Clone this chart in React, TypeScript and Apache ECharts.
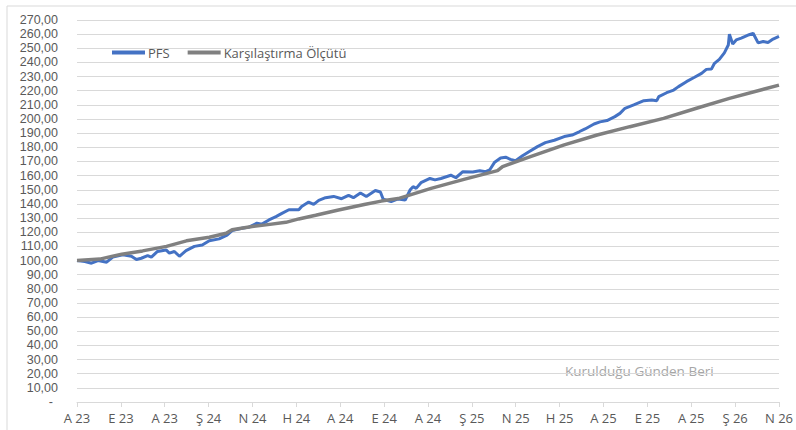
import React, { useEffect, useRef } from "react";
import * as echarts from "echarts";

const xLabels = ["A 23", "E 23", "A 23", "Ş 24", "N 24", "H 24", "A 24", "E 24", "A 24", "Ş 25", "N 25", "H 25", "A 25", "E 25", "A 25", "Ş 26", "N 26"];

// time in months since start (Aug 2023)
const pfsT = [0, 0.36, 0.66, 0.96, 1.35, 1.63, 2.09, 2.48, 2.71, 2.93, 3.22, 3.39, 3.67, 4.06, 4.21, 4.44, 4.67, 4.97, 5.35, 5.71, 6.03, 6.48, 6.84, 7.07, 7.52, 7.84, 8.20, 8.43, 8.75, 9.07, 9.34, 9.66, 10.11, 10.24, 10.56, 10.79, 11.02, 11.33, 11.70, 12.06, 12.38, 12.60, 12.92, 13.19, 13.60, 13.83, 13.96, 14.32, 14.64, 14.96, 15.19, 15.32, 15.46, 15.68, 16.09, 16.32, 16.59, 17.04, 17.27, 17.59, 18.04, 18.36, 18.63, 18.81, 19.04, 19.31, 19.54, 19.76, 19.99, 20.31, 20.62, 20.99, 21.35, 21.76, 22.21, 22.57, 22.89, 23.16, 23.57, 23.84, 24.16, 24.52, 24.75, 24.98, 25.38, 25.84, 26.20, 26.43, 26.52, 26.88, 27.20, 27.42, 27.78, 28.15, 28.47, 28.69, 28.92, 29.06, 29.28, 29.51, 29.69, 29.74, 29.89, 30.05, 30.28, 30.64, 30.82, 31.05, 31.28, 31.50, 31.73, 32.0];
const pfsV = [100, 99.3, 98.1, 100, 98.8, 102.4, 104, 103, 100.7, 101.6, 103.5, 102.4, 106.4, 107.5, 105.2, 106.4, 103, 107, 110, 111, 114, 115.3, 118, 121.2, 122.8, 123.6, 126.4, 125.7, 128.7, 131, 133.3, 135.9, 135.9, 138.2, 141.3, 139.7, 142.5, 144.4, 145.3, 143.7, 146, 144.4, 147.7, 145.3, 149.5, 148.4, 143.3, 141.6, 143.5, 142.8, 150, 152.2, 151, 155, 158, 157, 158, 160.3, 158.5, 162.8, 162.5, 163.5, 162.8, 164, 169.5, 172.5, 173, 171.5, 170.5, 174, 177, 180.5, 183.3, 185, 187.6, 188.7, 191, 193, 196.5, 198, 198.9, 201.7, 204, 207.6, 210, 213, 213.5, 213, 215.8, 218.6, 220.5, 222.9, 226.4, 229.5, 232.3, 235.1, 235.3, 239.4, 242.2, 246.8, 252.3, 260, 253, 255.9, 257.2, 259.6, 260.6, 253.8, 254.8, 254.1, 256.5, 258.4];

const benchT = [0, 1.04, 2.04, 2.99, 4.08, 4.99, 6.03, 6.80, 7.07, 7.98, 8.61, 9.52, 10.11, 10.88, 11.92, 13.15, 13.87, 14.64, 16.14, 17.68, 19.17, 19.40, 20.67, 22.21, 23.71, 25.20, 26.74, 28.24, 29.74, 32.0];
const benchV = [100, 101, 104.5, 106.8, 110, 113.9, 116.5, 119.3, 121.7, 124, 125.2, 127, 129.4, 132, 135.7, 139.8, 142, 143.8, 151, 157.5, 163.5, 166.4, 173.4, 181.7, 188.7, 194.6, 200.5, 207.6, 214.6, 224];

const seriesNames = ["PFS", "Karşılaştırma Ölçütü"];
const seriesColors = ["#4472C4", "#808080"];
const watermark = "Kurulduğu Günden Beri";

export default function App() {
  const ref = useRef<HTMLDivElement>(null);
  useEffect(() => {
    if (!ref.current) return;
    const chart = echarts.init(ref.current, undefined, { renderer: "svg" });
    const font = "Open Sans";
    const yFont = "Liberation Sans";
    const pfsData = pfsT.map((t, i) => [t, pfsV[i]]);
    const benchData = benchT.map((t, i) => [t, benchV[i]]);
    chart.setOption({
      animation: false,
      backgroundColor: "#ffffff",
      textStyle: { fontFamily: font },
      grid: { left: 77, right: 13, top: 20, bottom: 28, containLabel: false },
      legend: {
        left: 107,
        top: 41,
        itemWidth: 33,
        itemHeight: 4,
        itemGap: 18,
        icon: "rect",
        textStyle: { color: "#595959", fontSize: 13, fontFamily: font, padding: [0, 0, 0, -2] },
        data: seriesNames,
      },
      xAxis: {
        type: "value",
        min: 0,
        max: 32,
        interval: 2,
        axisLine: { show: true, lineStyle: { color: "#d9d9d9", width: 1 } },
        axisTick: { show: true, length: 5, lineStyle: { color: "#d9d9d9" } },
        splitLine: { show: false },
        axisLabel: {
          color: "#595959",
          fontSize: 13,
          margin: 9,
          fontFamily: font,
          formatter: (v: number) => xLabels[Math.round(v / 2)] ?? "",
        },
      },
      yAxis: {
        type: "value",
        min: 0,
        max: 270,
        interval: 10,
        axisLine: { show: false },
        axisTick: { show: false },
        splitLine: { lineStyle: { color: "#d9d9d9", width: 1 } },
        axisLabel: {
          color: "#595959",
          fontSize: 12.5,
          lineHeight: 13,
          margin: 19,
          fontFamily: yFont,
          formatter: (v: number) => (v === 0 ? "{d|-}" : v.toFixed(2).replace(".", ",")),
          rich: { d: { padding: [0, 5, 0, 0], color: "#595959", fontSize: 12.5, lineHeight: 13, fontFamily: yFont } },
        },
      },
      graphic: [
        {
          type: "rect",
          shape: { x: 7, y: 6, width: 820, height: 460 },
          style: { fill: "none", stroke: "#d9d9d9", lineWidth: 1 },
          silent: true,
        },
        {
          type: "text",
          x: 565,
          y: 364,
          style: { text: watermark, fill: "#a6a6a6", fontSize: 13.5, fontFamily: font },
          silent: true,
        },
      ],
      series: [
        {
          name: seriesNames[0],
          type: "line",
          data: pfsData,
          showSymbol: false,
          color: seriesColors[0],
          lineStyle: { width: 3, color: seriesColors[0] },
          z: 2,
        },
        {
          name: seriesNames[1],
          type: "line",
          data: benchData,
          showSymbol: false,
          color: seriesColors[1],
          lineStyle: { width: 3.5, color: seriesColors[1] },
          z: 3,
        },
      ],
    });
    return () => chart.dispose();
  }, []);
  return (
    <div
      ref={ref}
      style={{ position: "absolute", left: 0, top: 0, width: 796, height: 430, background: "#fff" }}
    />
  );
}
